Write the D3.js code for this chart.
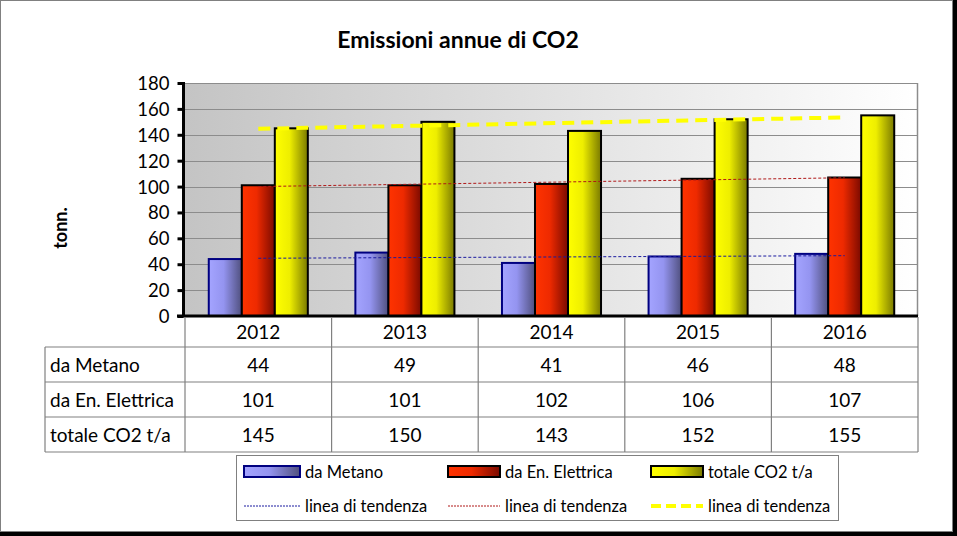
<!DOCTYPE html>
<html><head><meta charset="utf-8">
<script src="https://cdn.jsdelivr.net/npm/d3@7"></script>
<style>body{margin:0;background:#fff}svg{display:block}text{font-family:Lato,"Liberation Sans",sans-serif}</style>
</head><body><svg id="c" width="957" height="536"></svg>
<script>
const years = ["2012","2013","2014","2015","2016"];
const seriesNames = ["da Metano","da En. Elettrica","totale CO2 t/a"];
const metano = [44,49,41,46,48];
const elettrica = [101,101,102,106,107];
const totale = [145,150,143,152,155];
const yTicks = [0,20,40,60,80,100,120,140,160,180];
const title = "Emissioni annue di CO2";
const yTitle = "tonn.";
const trendLabel = "linea di tendenza";

const seriesValues = [metano, elettrica, totale];
const svg = d3.select("#c");
const W=957,H=536;
// frame
svg.append("rect").attr("width",W).attr("height",H).attr("fill","#000");
svg.append("rect").attr("x",0.5).attr("y",0.5).attr("width",952).attr("height",531).attr("fill","#fff").attr("stroke","#808080");

const defs = svg.append("defs");
const bg = defs.append("linearGradient").attr("id","bg").attr("x1","0").attr("x2","1").attr("y1","0").attr("y2","0");
bg.append("stop").attr("offset","0").attr("stop-color","#c4c4c4");
bg.append("stop").attr("offset","1").attr("stop-color","#ffffff");
const grads = [["#a4a4ff","#9494f0","#50507e"],["#ff3300","#ee2a00","#7a0a00"],["#ffff00","#eeee00","#7a7a00"]];
grads.forEach((g,i)=>{
  const lg = defs.append("linearGradient").attr("id","g"+i).attr("x1","0").attr("x2","1").attr("y1","0").attr("y2","0");
  lg.append("stop").attr("offset","0").attr("stop-color",g[0]);
  lg.append("stop").attr("offset","0.45").attr("stop-color",g[1]);
  lg.append("stop").attr("offset","1").attr("stop-color",g[2]);
});
const strokes = ["#000080","#000","#000"];

const x0=185,x1=918,yTop=83,yBot=316;
const x = d3.scaleBand().domain(years).range([x0,x1]).paddingInner(0).paddingOuter(0);
const xs = d3.scaleBand().domain(d3.range(3)).range([0,x.bandwidth()]).paddingInner(0).paddingOuter(0.72);
const y = d3.scaleLinear().domain([0,180]).range([yBot,yTop]);

// title
svg.append("text").attr("x",458).attr("y",48).attr("text-anchor","middle").attr("font-weight","bold").attr("font-size",23).text(title);
// plot bg
svg.append("rect").attr("x",x0).attr("y",yTop).attr("width",x1-x0).attr("height",yBot-yTop).attr("fill","url(#bg)");
// grid
svg.append("g").selectAll("line").data(yTicks.slice(1)).join("line")
  .attr("x1",x0).attr("x2",x1).attr("y1",d=>Math.round(y(d))+0.5).attr("y2",d=>Math.round(y(d))+0.5)
  .attr("stroke","#8c8c8c").attr("stroke-width",1);
svg.append("line").attr("x1",x1-0.5).attr("x2",x1-0.5).attr("y1",yTop).attr("y2",yBot).attr("stroke","#8c8c8c").attr("stroke-width",1.5);

// bars
seriesValues.forEach((vals,si)=>{
  svg.append("g").selectAll("rect").data(years).join("rect")
    .attr("x",(d)=>x(d)+xs(si)).attr("width",xs.bandwidth())
    .attr("y",(d,i)=>y(vals[i])).attr("height",(d,i)=>yBot-y(vals[i]))
    .attr("fill","url(#g"+si+")").attr("stroke",strokes[si]).attr("stroke-width",2);
});

// trend lines (least squares)
function fit(vals){
  const n=vals.length, xm=(n-1)/2, ym=d3.mean(vals);
  let num=0,den=0; vals.forEach((v,i)=>{num+=(i-xm)*(v-ym);den+=(i-xm)*(i-xm);});
  const b=num/den; return [ym-b*xm, ym+b*(n-1-xm)];
}
const trendStyles = [{c:"#1a1aa0",w:1,d:"3,2"},{c:"#b01818",w:1,d:"3,2"},{c:"#ffff00",w:4,d:"12,7"}];
seriesValues.forEach((vals,si)=>{
  const [a,b]=fit(vals);
  const cx=d=>x(d)+x.bandwidth()/2;
  svg.append("line").attr("x1",cx(years[0])).attr("x2",cx(years[years.length-1]))
    .attr("y1",y(a)).attr("y2",y(b)).attr("stroke",trendStyles[si].c).attr("stroke-width",trendStyles[si].w)
    .attr("stroke-dasharray",trendStyles[si].d);
});

// y axis
const yAxis = svg.append("g").attr("transform",`translate(${x0-1.5},0)`)
  .call(d3.axisLeft(y).tickValues(yTicks).tickSize(6).tickPadding(8));
yAxis.select(".domain").attr("stroke","#000").attr("stroke-width",3).attr("d",`M0,${yTop-1}V${yBot+1}`);
yAxis.selectAll(".tick line").attr("stroke","#000").attr("stroke-width",3);
yAxis.selectAll("text").attr("font-size",18.5).attr("fill","#000").attr("font-family","Lato,sans-serif").attr("dy","0.35em");
svg.append("text").attr("transform","translate(67,228) rotate(-90)").attr("text-anchor","middle").attr("font-weight","bold").attr("font-size",18).text(yTitle);

// x axis line
svg.append("line").attr("x1",x0-8).attr("x2",x1).attr("y1",yBot).attr("y2",yBot).attr("stroke","#000").attr("stroke-width",3);

// table
const rowY=[yBot,347,382,417,452];
const tbl=svg.append("g").attr("stroke","#808080").attr("stroke-width",1.2);
[...years.map(d=>x(d)),x1].forEach(px=>tbl.append("line").attr("x1",px).attr("x2",px).attr("y1",yBot+1).attr("y2",452));
tbl.append("line").attr("x1",45).attr("x2",45).attr("y1",347).attr("y2",452);
[347,382,417,452].forEach(py=>tbl.append("line").attr("x1",45).attr("x2",x1).attr("y1",py).attr("y2",py));
svg.append("g").selectAll("text").data(years).join("text")
  .attr("x",d=>x(d)+x.bandwidth()/2).attr("y",(yBot+347)/2+7).attr("text-anchor","middle").attr("font-size",19).text(d=>d);
seriesNames.forEach((nm,si)=>{
  const cy=(rowY[si+1]+rowY[si+2])/2+7;
  svg.append("text").attr("x",50).attr("y",cy).attr("font-size",19).text(nm);
  svg.append("g").selectAll("text").data(years).join("text")
    .attr("x",d=>x(d)+x.bandwidth()/2).attr("y",cy).attr("text-anchor","middle").attr("font-size",19)
    .text((d,i)=>seriesValues[si][i]);
});

// legend
svg.append("rect").attr("x",236.5).attr("y",455.5).attr("width",602).attr("height",65).attr("fill","#fff").attr("stroke","#808080");
const legX=[244,448,651], legW=[56,52,52];
seriesNames.forEach((nm,si)=>{
  svg.append("rect").attr("x",legX[si]).attr("y",466).attr("width",legW[si]).attr("height",11)
    .attr("fill","url(#g"+si+")").attr("stroke",strokes[si]).attr("stroke-width",2);
  svg.append("text").attr("x",legX[si]+legW[si]+5).attr("y",477.5).attr("font-size",16.5).text(nm);
  svg.append("line").attr("x1",legX[si]).attr("x2",legX[si]+legW[si]).attr("y1",506).attr("y2",506)
    .attr("stroke",trendStyles[si].c).attr("stroke-width",trendStyles[si].w).attr("stroke-dasharray",si==2?"10,5":"2,1");
  svg.append("text").attr("x",legX[si]+legW[si]+5).attr("y",511.5).attr("font-size",16.5).text(trendLabel);
});
</script></body></html>
